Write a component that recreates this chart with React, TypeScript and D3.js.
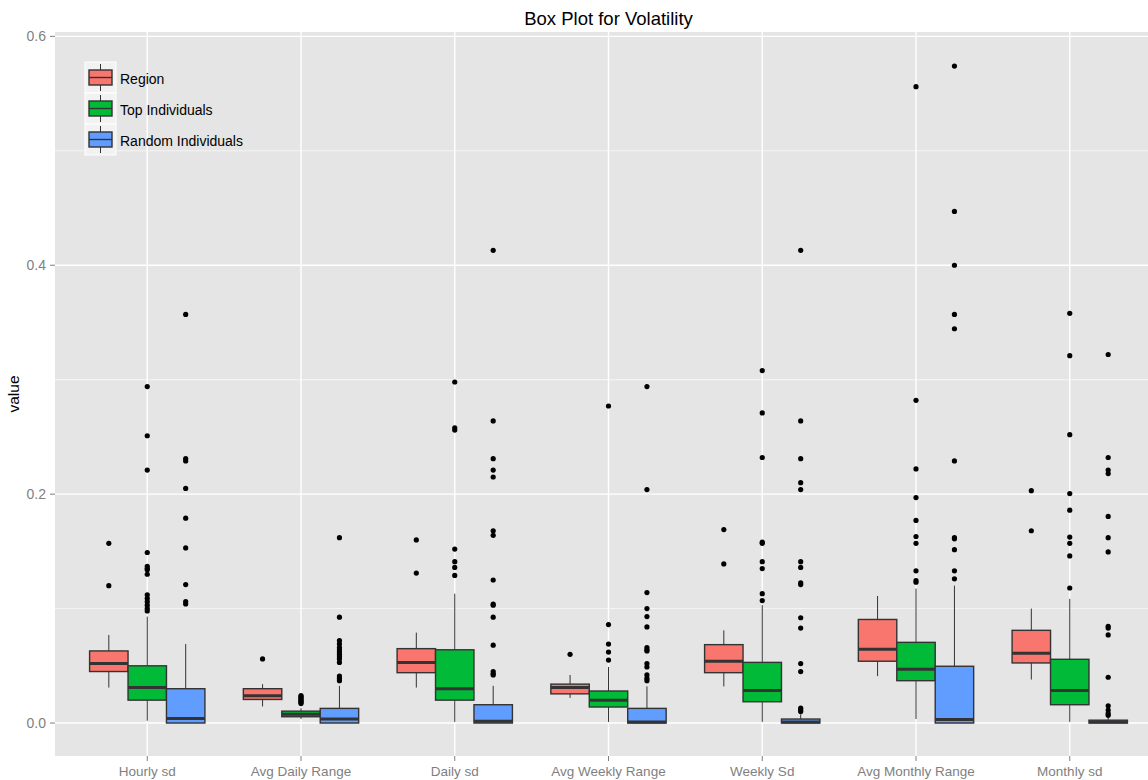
import React from "react";
import * as d3 from "d3";

// ---- Data ----
const categories = [
  "Hourly sd",
  "Avg Daily Range",
  "Daily sd",
  "Avg Weekly Range",
  "Weekly Sd",
  "Avg Monthly Range",
  "Monthly sd",
];
const groups = ["Region", "Top Individuals", "Random Individuals"];

// [lower whisker, q1, median, q3, upper whisker] per category
const regionStats = [
  [0.031, 0.045, 0.052, 0.063, 0.077],
  [0.0145, 0.0206, 0.0238, 0.030, 0.034],
  [0.031, 0.044, 0.053, 0.065, 0.079],
  [0.022, 0.0255, 0.031, 0.034, 0.042],
  [0.032, 0.044, 0.054, 0.0685, 0.081],
  [0.041, 0.054, 0.0644, 0.0905, 0.111],
  [0.038, 0.0525, 0.061, 0.081, 0.100],
];
const topStats = [
  [0.002, 0.020, 0.031, 0.050, 0.093],
  [0.0035, 0.0055, 0.0076, 0.0104, 0.013],
  [0.001, 0.020, 0.030, 0.064, 0.113],
  [0.001, 0.014, 0.020, 0.028, 0.049],
  [0.001, 0.0186, 0.0285, 0.053, 0.103],
  [0.0035, 0.037, 0.047, 0.0705, 0.1175],
  [0.001, 0.016, 0.0285, 0.0557, 0.1085],
];
const randomStats = [
  [0, 0, 0.004, 0.030, 0.069],
  [0, 0, 0.0035, 0.0128, 0.0325],
  [0, 0, 0.0015, 0.016, 0.0325],
  [0, 0, 0.001, 0.0128, 0.032],
  [0, 0, 0.001, 0.0035, 0.0076],
  [0, 0, 0.0032, 0.0496, 0.120],
  [0, 0, 0.0008, 0.0025, 0.005],
];

const regionOutliers = [
  [0.157, 0.120],
  [0.056],
  [0.160, 0.131],
  [0.060],
  [0.169, 0.139],
  [],
  [0.203, 0.168],
];
const topOutliers = [
  [0.294, 0.251, 0.221, 0.149, 0.137, 0.135, 0.134, 0.130, 0.112, 0.109, 0.106, 0.103, 0.100, 0.098],
  [0.024, 0.023, 0.022, 0.021, 0.020, 0.019, 0.018, 0.017],
  [0.298, 0.258, 0.256, 0.152, 0.141, 0.136, 0.129],
  [0.277, 0.086, 0.069, 0.062, 0.055],
  [0.308, 0.271, 0.232, 0.158, 0.157, 0.141, 0.135, 0.113, 0.107],
  [0.556, 0.282, 0.222, 0.197, 0.177, 0.163, 0.157, 0.133, 0.1245, 0.123],
  [0.358, 0.321, 0.252, 0.2005, 0.186, 0.1625, 0.157, 0.146, 0.118],
];
const randomOutliers = [
  [0.357, 0.231, 0.229, 0.205, 0.179, 0.153, 0.121, 0.106, 0.104],
  [0.162, 0.0925, 0.072, 0.069, 0.066, 0.064, 0.062, 0.060, 0.058, 0.056, 0.053, 0.041, 0.039, 0.037],
  [0.413, 0.264, 0.231, 0.221, 0.215, 0.168, 0.164, 0.125, 0.104, 0.103, 0.0925, 0.068, 0.045, 0.043, 0.042],
  [0.294, 0.204, 0.114, 0.100, 0.093, 0.084, 0.066, 0.064, 0.063, 0.052, 0.049, 0.042, 0.039, 0.037],
  [0.413, 0.264, 0.231, 0.210, 0.204, 0.141, 0.136, 0.1225, 0.121, 0.092, 0.083, 0.052, 0.045, 0.013, 0.0115, 0.010],
  [0.574, 0.447, 0.400, 0.357, 0.3445, 0.229, 0.162, 0.161, 0.1515, 0.133, 0.126],
  [0.322, 0.232, 0.221, 0.218, 0.1805, 0.162, 0.1495, 0.0845, 0.083, 0.077, 0.040, 0.015, 0.0113, 0.0084, 0.0067],
];

const yMajorTicks = [0.0, 0.2, 0.4, 0.6];
const yMinorTicks = [0.1, 0.3, 0.5];

const statsByGroup = [regionStats, topStats, randomStats];
const outliersByGroup = [regionOutliers, topOutliers, randomOutliers];

// ---- Styles ----
const fills = ["#F8766D", "#00BA38", "#619CFF"];
const W = 1148;
const H = 780;
const panel = { left: 55, right: 1162, top: 32, bottom: 756 };
const FONT = "'Liberation Sans', Arial, sans-serif";

export default function App() {
  const x = d3
    .scalePoint<string>()
    .domain(categories)
    .range([panel.left, panel.right])
    .padding(0.6);
  const step = x.step();
  const y = d3
    .scaleLinear()
    .domain([-0.0288, 0.6038])
    .range([panel.bottom, panel.top]);

  const boxW = step * 0.25;
  const dodge = d3
    .scaleBand<number>()
    .domain([0, 1, 2])
    .range([-step * 0.375, step * 0.375]);

  const legendRows = groups.map((g, i) => ({ g, i, top: 62 + i * 31 }));

  return (
    <svg
      width={W}
      height={H}
      style={{ position: "absolute", left: 0, top: 0, background: "#fff" }}
      fontFamily={FONT}
    >
      <defs>
        <clipPath id="pc">
          <rect x={panel.left} y={panel.top} width={panel.right - panel.left} height={panel.bottom - panel.top} />
        </clipPath>
      </defs>
      {/* Panel */}
      <rect
        x={panel.left}
        y={panel.top}
        width={panel.right - panel.left}
        height={panel.bottom - panel.top}
        fill="#E5E5E5"
      />
      <g clipPath="url(#pc)">
        {yMinorTicks.map((t) => (
          <line key={"mn" + t} x1={panel.left} x2={panel.right} y1={y(t)} y2={y(t)} stroke="#FAFAFA" strokeWidth={0.8} />
        ))}
        {yMajorTicks.map((t) => (
          <line key={"mj" + t} x1={panel.left} x2={panel.right} y1={y(t)} y2={y(t)} stroke="#FFFFFF" strokeWidth={1.4} />
        ))}
        {categories.map((c) => (
          <line key={"vx" + c} x1={x(c)} x2={x(c)} y1={panel.top} y2={panel.bottom} stroke="#FFFFFF" strokeWidth={1.4} />
        ))}

        {/* Boxes */}
        {categories.map((c, ci) =>
          groups.map((g, gi) => {
            const s = statsByGroup[gi][ci];
            const x0 = (x(c) as number) + (dodge(gi) as number);
            const cx = x0 + boxW / 2;
            return (
              <g key={c + g}>
                <line x1={cx} x2={cx} y1={y(s[4])} y2={y(s[3])} stroke="#333333" strokeWidth={1} />
                <line x1={cx} x2={cx} y1={y(s[1])} y2={y(s[0])} stroke="#333333" strokeWidth={1} />
                <rect
                  x={x0}
                  y={y(s[3])}
                  width={boxW}
                  height={Math.max(0.5, y(s[1]) - y(s[3]))}
                  fill={fills[gi]}
                  stroke="#333333"
                  strokeWidth={1.4}
                />
                <line x1={x0} x2={x0 + boxW} y1={y(s[2])} y2={y(s[2])} stroke="#333333" strokeWidth={3} />
                {outliersByGroup[gi][ci].map((v, k) => (
                  <circle key={k} cx={cx} cy={y(v)} r={2.6} fill="#000" />
                ))}
              </g>
            );
          })
        )}
      </g>

      {/* Legend */}
      {legendRows.map(({ g, i, top }) => {
        const cx = 100.5;
        return (
          <g key={"lg" + g}>
            <rect x={85} y={top} width={31} height={31} fill="#F2F2F2" stroke="#FFFFFF" strokeWidth={1} />
            <line x1={cx} x2={cx} y1={top + 2} y2={top + 29} stroke="#333333" strokeWidth={1} />
            <rect x={89} y={top + 8} width={23} height={15} fill={fills[i]} stroke="#333333" strokeWidth={1.4} />
            <line x1={89} x2={112} y1={top + 15.5} y2={top + 15.5} stroke="#333333" strokeWidth={1.4} />
            <text x={120} y={top + 22} fontSize={14} fill="#000">
              {g}
            </text>
          </g>
        );
      })}

      {/* Y axis */}
      {yMajorTicks.map((t) => (
        <g key={"yt" + t}>
          <line x1={50} x2={55} y1={y(t)} y2={y(t)} stroke="#7F7F7F" strokeWidth={1} />
          <text x={46} y={y(t) + 5} textAnchor="end" fontSize={14} fill="#7F7F7F">
            {d3.format(".1f")(t)}
          </text>
        </g>
      ))}
      {/* X axis */}
      {categories.map((c) => (
        <g key={"xt" + c}>
          <line x1={x(c)} x2={x(c)} y1={panel.bottom} y2={panel.bottom + 5} stroke="#7F7F7F" strokeWidth={1} />
          <text x={x(c)} y={775.5} textAnchor="middle" fontSize={13.5} fill="#7F7F7F">
            {c}
          </text>
        </g>
      ))}

      <text
        transform={`translate(19, ${(panel.top + panel.bottom) / 2}) rotate(-90)`}
        textAnchor="middle"
        fontSize={15.5}
        fill="#000"
      >
        value
      </text>
      <text x={(panel.left + panel.right) / 2} y={25} textAnchor="middle" fontSize={18.5} fill="#000">
        Box Plot for Volatility
      </text>
    </svg>
  );
}
